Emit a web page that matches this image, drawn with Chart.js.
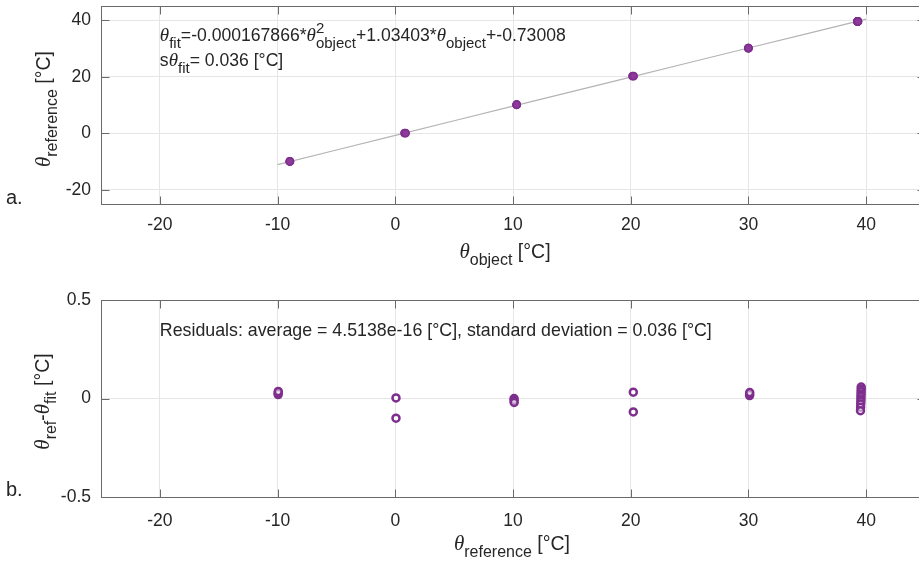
<!DOCTYPE html>
<html>
<head>
<meta charset="utf-8">
<script src="https://cdn.jsdelivr.net/npm/chart.js@4.4.1/dist/chart.umd.min.js"></script>
<style>
  html, body { margin: 0; padding: 0; background: #fff; overflow: hidden; width: 919px; height: 562px; }
  #c1 { position: absolute; left: 0; top: 0; }
  #c2 { position: absolute; left: 0; top: 270px; }
</style>
</head>
<body>
<canvas id="c1" width="935" height="270"></canvas>
<canvas id="c2" width="935" height="292"></canvas>
<script>
// ---- calibration measurements ----
// reference thermometer readings [°C]
const thetaReference = [
  -9.95, -9.95, -9.94,
   0.06,  0.06,
  10.09, 10.09, 10.10,
  20.22, 20.22,
  30.10, 30.10, 30.11,
  39.58, 39.58, 39.57, 39.57, 39.56, 39.56, 39.55, 39.54, 39.53, 39.52
];
// object (camera) readings [°C]
const thetaObject = [
  -8.95, -8.96, -8.96,
   0.78,  0.88,
  10.30, 10.31, 10.32,
  20.15, 20.25,
  30.00, 30.00, 29.99,
  39.27, 39.27, 39.27, 39.28, 39.28, 39.28, 39.29, 39.29, 39.30, 39.30
];
// residuals theta_ref - theta_fit [°C]
const residuals = [
  0.020, 0.028, 0.036,
  0.003, -0.100,
  0.000, -0.010, -0.020,
  0.032, -0.068,
  0.015, 0.022, 0.030,
  0.058, 0.046, 0.034, 0.022, 0.010, -0.002, -0.015, -0.028, -0.044, -0.062
];
// quadratic fit coefficients: a2, a1, a0
const fitCoeffs = [-0.000167866, 1.03403, -0.73008];
const fitSpan = [-10, 40];
// tick values
const xTickValues = [-20, -10, 0, 10, 20, 30, 40];
const yTickValuesTop = [-20, 0, 20, 40];
const yTickValuesBottom = [-0.5, 0, 0.5];

// ---- styling ----
const PURPLE = '#7e2f8e';
const TEXT = '#262626';
const SANS = '"Liberation Sans", Arial, Helvetica, sans-serif';
const tickFont = { family: SANS, size: 17.5 };

function sansFont(size) { return size + 'px ' + SANS; }
function greekFont(size) { return 'italic ' + Math.round(size * 1.08) + 'px "Liberation Serif", "DejaVu Serif", serif'; }

// rich text: segments [text, kind]; kind n=normal, g=greek italic, b=subscript, p=superscript, sp=[sup,sub] stacked
function drawRich(ctx, segs, x, y, size, small, align, rot) {
  const items = [];
  let w = 0;
  for (const [t, k] of segs) {
    if (k === 'sp') {
      ctx.font = sansFont(small);
      const w1 = ctx.measureText(t[0]).width, w2 = ctx.measureText(t[1]).width;
      items.push({ t: t[0], f: ctx.font, x: w, dy: -size * 0.45 });
      items.push({ t: t[1], f: ctx.font, x: w, dy: size * 0.36 });
      w += Math.max(w1, w2);
    } else {
      let f = sansFont(size), dy = 0;
      if (k === 'g') f = greekFont(size);
      else if (k === 'b') { f = sansFont(small); dy = size * 0.36; }
      else if (k === 'p') { f = sansFont(small); dy = -size * 0.45; }
      ctx.font = f;
      const ww = ctx.measureText(t).width;
      items.push({ t, f, x: w, dy });
      w += ww;
    }
  }
  ctx.save();
  ctx.translate(x, y);
  if (rot) ctx.rotate(rot);
  const x0 = align === 'center' ? -w / 2 : 0;
  ctx.fillStyle = TEXT;
  ctx.textAlign = 'left';
  ctx.textBaseline = 'alphabetic';
  for (const it of items) { ctx.font = it.f; ctx.fillText(it.t, x0 + it.x, it.dy); }
  ctx.restore();
}

function fixedScale(s, size, horizontal) {
  if (horizontal) s.height = size; else s.width = size;
  s.paddingLeft = 0; s.paddingRight = 0; s.paddingTop = 0; s.paddingBottom = 0;
}

function xScaleOpts(h, pad) {
  return {
    type: 'linear', min: -25, max: 45,
    ticks: { color: TEXT, font: tickFont, padding: pad, maxRotation: 0, autoSkip: false },
    afterBuildTicks: s => { s.ticks = xTickValues.map(v => ({ value: v })); },
    grid: { color: '#e6e6e6', drawTicks: false },
    border: { display: false },
    afterFit: s => fixedScale(s, h, true)
  };
}
function yScaleOpts(min, max, values) {
  return {
    type: 'linear', min, max,
    ticks: { color: TEXT, font: tickFont, padding: 10, autoSkip: false },
    afterBuildTicks: s => { s.ticks = values.map(v => ({ value: v })); },
    grid: { color: '#e6e6e6', drawTicks: false },
    border: { display: false },
    afterFit: s => fixedScale(s, 101, false)
  };
}

// axes box with inward tick marks on all four sides
const boxPlugin = {
  id: 'axesBox',
  afterDraw(chart) {
    const { ctx, chartArea: a, scales: { x, y } } = chart;
    const L = Math.round(a.left) + 0.5, R = Math.round(a.right) + 0.5;
    const T = Math.round(a.top) + 0.5, B = Math.round(a.bottom) + 0.5;
    ctx.save();
    ctx.strokeStyle = '#6a6a6a';
    ctx.lineWidth = 1;
    ctx.strokeRect(L, T, R - L, B - T);
    ctx.beginPath();
    for (const t of x.ticks) {
      const px = Math.round(x.getPixelForValue(t.value)) + 0.5;
      ctx.moveTo(px, B); ctx.lineTo(px, B - 8);
      ctx.moveTo(px, T); ctx.lineTo(px, T + 8);
    }
    for (const t of y.ticks) {
      const py = Math.round(y.getPixelForValue(t.value)) + 0.5;
      ctx.moveTo(L, py); ctx.lineTo(L + 8, py);
      ctx.moveTo(R, py); ctx.lineTo(R - 8, py);
    }
    ctx.stroke();
    ctx.restore();
  }
};

function textPlugin(drawFn) {
  return { id: 'labels', afterDraw(chart) { drawFn(chart); } };
}

// ---- top chart: calibration curve ----
const calibPoints = thetaObject.map((v, i) => ({ x: v, y: thetaReference[i] }));
const fitCurve = [];
for (let v = fitSpan[0]; v <= fitSpan[1]; v += 5) {
  fitCurve.push({ x: v, y: fitCoeffs[0] * v * v + fitCoeffs[1] * v + fitCoeffs[2] });
}

const commonOpts = {
  responsive: false,
  animation: false,
  events: [],
  plugins: { legend: { display: false }, tooltip: { enabled: false } }
};

new Chart(document.getElementById('c1'), {
  type: 'scatter',
  data: {
    datasets: [
      { data: calibPoints, order: 0, pointRadius: 3.6, pointBorderWidth: 1.6,
        pointBackgroundColor: '#8d3a9b', pointBorderColor: PURPLE, showLine: false },
      { data: fitCurve, order: 1, showLine: true, pointRadius: 0, borderColor: '#b4b4b4', borderWidth: 1.2, tension: 0 }
    ]
  },
  options: Object.assign({}, commonOpts, {
    layout: { padding: { left: 0, top: 6, right: 10, bottom: 0 } },
    scales: { x: xScaleOpts(66, 11), y: yScaleOpts(-25, 45, yTickValuesTop) }
  }),
  plugins: [boxPlugin, textPlugin(chart => {
    const { ctx, scales: { x, y }, chartArea: a } = chart;
    const tx = x.getPixelForValue(-20);
    drawRich(ctx, [['θ', 'g'], ['fit', 'b'], ['=-0.000167866*', 'n'], ['θ', 'g'], [['2', 'object'], 'sp'],
      ['+1.03403*', 'n'], ['θ', 'g'], ['object', 'b'], ['+-0.73008', 'n']],
      tx, y.getPixelForValue(34.6) + 6, 17.6, 15, 'left');
    drawRich(ctx, [['s', 'n'], ['θ', 'g'], ['fit', 'b'], ['= 0.036 [°C]', 'n']],
      tx, y.getPixelForValue(25.8) + 6, 17.6, 15, 'left');
    // axis titles
    drawRich(ctx, [['θ', 'g'], ['object', 'b'], [' [°C]', 'n']], 505, a.bottom + 54, 19.5, 16, 'center');
    drawRich(ctx, [['θ', 'g'], ['reference', 'b'], [' [°C]', 'n']], 50, (a.top + a.bottom) / 2 + 4, 19.5, 16, 'center', -Math.PI / 2);
    ctx.save();
    ctx.font = sansFont(20); ctx.fillStyle = TEXT; ctx.textBaseline = 'middle'; ctx.textAlign = 'left';
    ctx.fillText('a.', 6, 198);
    ctx.restore();
  })]
});

// ---- bottom chart: residuals ----
const residualPoints = thetaReference.map((v, i) => ({ x: v, y: residuals[i] }));

new Chart(document.getElementById('c2'), {
  type: 'scatter',
  data: {
    datasets: [
      { data: residualPoints, pointRadius: 3.5, pointBorderWidth: 2.5,
        pointBackgroundColor: 'rgba(255,255,255,0.5)', pointBorderColor: PURPLE, showLine: false }
    ]
  },
  options: Object.assign({}, commonOpts, {
    layout: { padding: { left: 0, top: 30, right: 10, bottom: 0 } },
    scales: { x: xScaleOpts(65, 14), y: yScaleOpts(-0.5, 0.5, yTickValuesBottom) }
  }),
  plugins: [boxPlugin, textPlugin(chart => {
    const { ctx, scales: { x, y }, chartArea: a } = chart;
    drawRich(ctx, [['Residuals: average = 4.5138e-16 [°C], standard deviation = 0.036 [°C]', 'n']],
      x.getPixelForValue(-20), y.getPixelForValue(0.35) + 6, 17.8, 15, 'left');
    drawRich(ctx, [['θ', 'g'], ['reference', 'b'], [' [°C]', 'n']], 512, a.bottom + 53, 19.5, 16, 'center');
    drawRich(ctx, [['θ', 'g'], ['ref', 'b'], ['-', 'n'], ['θ', 'g'], ['fit', 'b'], [' [°C]', 'n']],
      49, (a.top + a.bottom) / 2 + 3, 19.5, 16, 'center', -Math.PI / 2);
    ctx.save();
    ctx.font = sansFont(20); ctx.fillStyle = TEXT; ctx.textBaseline = 'middle'; ctx.textAlign = 'left';
    ctx.fillText('b.', 6, 220);
    ctx.restore();
  })]
});
</script>
</body>
</html>
